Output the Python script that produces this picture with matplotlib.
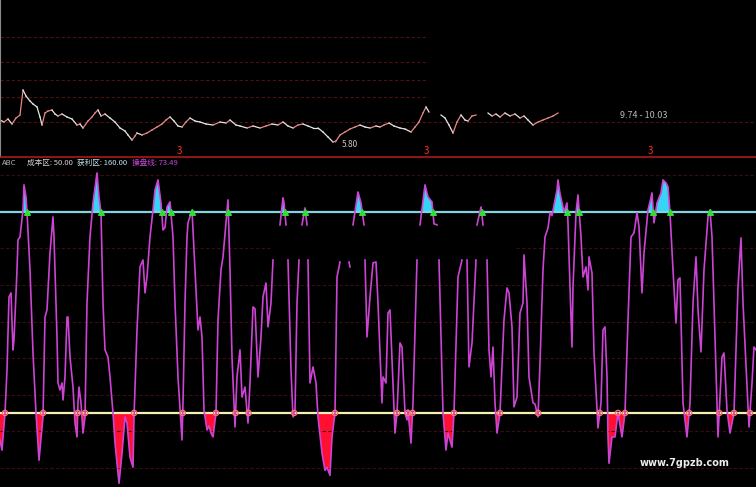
import numpy as np
import matplotlib.pyplot as plt

# 字体：中文用 Noto Sans CJK SC，其余回落到 DejaVu Sans
plt.rcParams['font.family'] = ['Noto Sans CJK SC', 'DejaVu Sans']

# ---------------- 数据 ----------------
# 主图价格（K线收盘走势），NaN 处为被遮挡的部分
price_bar = [0, 2, 4, 6, 8, 10, 11.5, 13, 15, 16.5,
             18.5, 20, 21, 22.5, 24, 26, 27.5, 29, 31, 33.5,
             36, 38.5, 40, 41.5, 44, 46, 47.5, 49, 50.5, 52.5,
             55, 57.5, 60, 62.5, 64, 66, 67.5, 68.5, 71, 73.5,
             76, 78.5, 81, 83, 85, 87, 89, 91, 93, 95,
             97.5, 100, 103, 106.5, 110, 113, 115, 118, 120, 123.5,
             126.5, 130, 133, 136, 139, 141.5, 144, 146.5, 149, 151.5,
             154, 156.5, 159, 161.5, 164, 166.5, 168, 170, 172.5, 175,
             177.5, 180, 182.5, 185, 188, 190, 192, 194.5, 197, 200,
             202.5, 205.5, 207.5, 209.5, 211.5, 213, 214.5, 217, 220.5, 222.5,
             224.5, 226.5, 228.5, 230.5, 232.5, 234, 236, 238, 241, 244,
             246, 248, 250, 252.5, 255, 257.5, 260, 262, 264, 266.5,
             269, 271.5, 274, 276.5, 279]
price_val = [6.90, 6.80, 6.95, 6.70, 7.00, 7.15, 8.40, 8.10, 7.85, 7.70,
             7.55, 7.05, 6.65, 7.25, 7.35, 7.40, 7.20, 7.10, 7.20, 7.05,
             6.95, 6.65, 6.70, 6.50, 6.85, 7.05, 7.25, 7.40, 7.10, 7.20,
             7.00, 6.80, 6.50, 6.35, 6.15, 5.90, 6.10, 6.25, 6.15, 6.25,
             6.40, 6.55, 6.70, 6.90, 7.05, 6.85, 6.60, 6.55, 6.80, 7.00,
             6.85, 6.80, 6.70, 6.65, 6.80, 6.75, 6.90, 6.65, 6.60, 6.50,
             6.60, 6.50, 6.60, 6.70, 6.65, 6.80, 6.60, 6.50, 6.65, 6.70,
             6.60, 6.50, 6.50, 6.30, 6.05, 5.80, 5.85, 6.15, 6.30, 6.45,
             6.55, 6.65, 6.55, 6.50, 6.60, 6.55, 6.65, 6.75, 6.60, 6.50,
             6.45, 6.30, 6.55, 6.80, 7.25, 7.55, 7.30, np.nan, 7.15, 7.00,
             6.65, 6.25, 6.80, 7.15, 6.90, 6.85, 7.10, 7.15, np.nan, 7.25,
             7.10, 7.20, 7.05, 7.25, 7.10, 7.20, 7.00, 7.10, 6.90, 6.65,
             6.80, 6.90, 7.00, 7.10, 7.25]
price_grid_left = [11.05, 9.80, 8.90, 8.05]
price_grid_full = [6.80]
signal_bars = [89.5, 213, 325]
low_bar, low_price = 166.5, 5.80

# 副图：操盘线
osc_bar = [0, 1, 2.5, 3.5, 4.5, 5.5, 6.5, 7, 8.5, 9,
           10, 11.5, 12, 13, 13.5, 15, 16.5, 18, 19.5, 21.5,
           22.5, 23.5, 25, 26.5, 27, 28.5, 29, 30, 31, 31.5,
           32.5, 33.5, 34, 35, 36.5, 37.5, 38.5, 39, 39.5, 40.5,
           41.5, 42.5, 43.5, 45, 46.5, 48.5, 49.5, 50.5, 51.5, 52.5,
           54, 55, 56.5, 57.5, 59.5, 61, 62.5, 63.5, 65, 66.5,
           67, 68.5, 70, 71.5, 72.5, 73.5, 75, 76.5, 77.5, 79,
           80.5, 81.5, 82.5, 83.5, 85, 86.5, 87.5, 89, 91, 91.5,
           92.5, 93.5, 94, 96, 97.5, 99, 100, 101, 102, 103.5,
           104.5, 105.5, 106.5, 108, 109, 110.5, 111.5, 113, 114, 115,
           116, 117.5, 118.5, 120, 121, 122.5, 124, 125, 126.5, 127.5,
           129, 130.5, 131.5, 133, 134, 135.5, 136.5, 138, 140, 141.5,
           142, 143, 143.5, 144, 145.5, 146.5, 147.5, 148.5, 149.5, 150.2,
           151, 152.5, 153.5, 153.8, 154, 155, 156.5, 158, 159, 161,
           162.5, 163.5, 165, 166, 167.5, 168.5, 170, 172, 174.5, 175,
           175.7, 176.5, 179, 180.5, 182, 182.2, 182.5, 183.5, 185, 186.5,
           188, 189, 191, 191.5, 193, 194, 195, 196.5, 197.5, 198.5,
           200, 201, 202.5, 203.5, 204, 205.5, 206.5, 208.5, 209.2, 210,
           212.5, 214, 216, 217, 218.5, 219, 219.5, 221.5, 223, 224,
           226, 227, 229, 231, 232, 233.5, 234.5, 236, 238, 238.2,
           238.5, 240.5, 241.5, 242.5, 243.5, 244.5, 245.5, 246.5, 247.5, 248.5,
           250, 252, 253.5, 254.5, 256, 257, 258.5, 260, 261.5, 262,
           263.5, 264.5, 266.5, 267.5, 269, 270, 271.5, 272.5, 274, 275,
           276, 278.5, 279, 280, 282, 283.5, 284, 285, 286, 286.5,
           288, 289, 290.5, 291.5, 293, 294, 294.5, 296, 297, 298.5,
           299, 300.5, 301.5, 302.5, 303.5, 304, 304.5, 306, 307.5, 309,
           311, 312.5, 314, 315.5, 317, 318.5, 319.5, 321, 322, 324,
           325, 326, 327, 328.5, 330.5, 331.5, 333, 334, 335, 336.5,
           338, 339, 340, 341.5, 343.5, 345, 346.5, 348, 349, 350.5,
           352, 354, 355, 356, 357.5, 359, 361, 362, 363.5, 365,
           367, 369, 370.5, 371.5, 373.5, 374.5, 376, 377, 378]
osc_val = [35.2, 29.7, 50.0, 73.5, 113.5, 115.7, 84.5, 90.0, 128.3, 144.7,
           146.3, 161.1, 174.8, 168.2, 160.0, 128.3, 82.8, 50.0, 24.1, 47.8,
           102.5, 106.4, 137.6, 157.3, 146.3, 91.6, 66.4, 62.6, 66.4, 57.1,
           69.7, 102.5, 102.5, 80.6, 64.2, 44.5, 36.9, 55.5, 64.2, 55.5,
           39.0, 47.8, 110.2, 146.3, 164.9, 181.3, 168.2, 159.5, 110.2, 84.5,
           80.6, 69.7, 50.0, 33.5, 11.5, 28.0, 47.8, 44.5, 25.8, 20.3,
           47.8, 95.4, 129.9, 133.7, 115.7, 124.4, 146.3, 161.1, 172.0, 177.5,
           164.9, 150.1, 151.5, 162.7, 165.5, 146.3, 110.2, 69.7, 35.2, 55.5,
           110.2, 146.3, 154.0, 161.0, 128.3, 95.4, 102.5, 91.6, 51.6, 40.7,
           42.9, 39.0, 36.9, 50.0, 100.9, 128.3, 135.4, 154.0, 166.6, 128.3,
           80.6, 42.3, 69.7, 84.5, 58.7, 64.2, 44.5, 66.4, 108.0, 107.0,
           69.7, 91.6, 113.5, 121.1, 97.1, 110.2, 133.7, np.nan, 152.9, 167.7,
           165.0, 152.9, np.nan, 133.7, 73.5, 47.8, 51.6, 110.2, 133.7, np.nan,
           152.9, 162.2, 152.9, np.nan, 133.7, 66.4, 75.2, 66.4, 47.8, 28.0,
           18.6, 20.3, 15.9, 36.9, 50.0, 124.4, 132.6, np.nan, 132.6, 129.9,
           np.nan, 152.9, 170.9, 164.9, 152.9, np.nan, 133.7, 91.6, 113.5, 132.1,
           132.6, 110.2, 55.5, 69.7, 66.4, 104.7, 106.4, 66.4, 39.0, 50.0,
           88.3, 86.1, 50.0, 46.2, 51.6, 33.5, 55.5, 133.7, np.nan, 152.9,
           174.8, 168.2, 165.5, 153.5, 152.9, np.nan, 133.7, 50.0, 29.7, 39.0,
           31.3, 50.0, 124.4, 133.7, np.nan, 133.7, 75.2, 88.3, 133.7, np.nan,
           152.9, 162.7, 152.9, np.nan, 133.7, 84.5, 69.7, 86.1, 55.5, 39.0,
           50.0, 100.9, 118.4, 115.7, 97.1, 53.3, 58.7, 104.7, 110.2, 136.5,
           110.2, 69.7, 55.5, 54.9, 47.8, 77.4, 128.3, 146.3, 151.2, 159.5,
           158.0, 172.0, 177.5, 170.0, 160.0, 164.9, 154.0, 119.0, 86.1, 119.0,
           159.5, 169.3, 146.3, 124.4, 129.9, 117.3, 135.4, 126.6, 82.8, 51.6,
           41.8, 55.5, 95.4, 97.1, 69.7, 36.9, 22.5, 36.9, 36.9, 50.0,
           36.9, 50.0, 100.9, 146.3, 148.5, 159.5, 151.8, 115.7, 137.6, 161.1,
           165.5, 170.4, 154.0, 164.9, 170.4, 177.5, 175.9, 173.7, 159.5, 128.3,
           99.2, 122.8, 123.9, 55.5, 36.9, 55.5, 110.2, 135.4, 106.4, 83.4,
           128.3, 157.3, 161.1, 146.3, 91.6, 36.9, 80.6, 82.8, 51.6, 39.0,
           50.0, 119.0, 145.8, 110.2, 64.2, 42.3, 66.4, 86.1, 84.5]
cost_level = 50.0
profit_level = 160.0
osc_grid = [20, 40, 60, 80, 100, 120, 180]

osc_bar = np.array(osc_bar, dtype=float)
osc_val = np.array(osc_val, dtype=float)


def crossings(x, v, level, direction):
    pts = []
    for i in range(len(v) - 1):
        a, b = v[i], v[i + 1]
        if np.isnan(a) or np.isnan(b):
            continue
        if (direction == 'down' and a >= level and b < level) or \
           (direction == 'up' and a < level and b >= level):
            t = (a - level) / (a - b)
            pts.append(x[i] + t * (x[i + 1] - x[i]))
    return pts


# ---------------- 画布 ----------------
fig = plt.figure(figsize=(7.56, 4.87), dpi=100, facecolor='black')
ax_top = fig.add_axes([0, 0.6776, 1, 0.3224])
ax = fig.add_axes([0, 0, 1, 0.6756])

for a in (ax_top, ax):
    a.set_facecolor('black')
    a.set_xlim(0, 378)
    a.set_xticks([])
    a.set_yticks([])
    for s in a.spines.values():
        s.set_visible(False)

# ---------------- 主图 ----------------
ax_top.set_ylim(5.05, 12.9)
for lv in price_grid_left:
    ax_top.hlines(lv, 0, 214, colors='#4a1212', linestyles=(0, (3, 2)), lw=0.8)
for lv in price_grid_full:
    ax_top.axhline(lv, color='#4a1212', ls=(0, (3, 2)), lw=0.8)

for i in range(len(price_bar) - 1):
    p0, p1 = price_val[i], price_val[i + 1]
    if np.isnan(p0) or np.isnan(p1):
        continue
    c = '#e88888' if p1 > p0 else '#e6e6e6'
    ax_top.plot(price_bar[i:i + 2], [p0, p1], color=c, lw=0.9)

ax_top.annotate('5.80', xy=(low_bar, low_price), xytext=(6, -2),
                textcoords='offset points', color='#c8c8c8', fontsize=6,
                va='center', ha='left',
                arrowprops=dict(arrowstyle='-', color='#c8c8c8', lw=0.6))
ax_top.text(310, 7.15, '9.74 - 10.03', color='#b8b8b8', fontsize=6.5, va='center')
for b in signal_bars:
    ax_top.text(b, 5.35, '3', color='#ff3030', fontsize=7, ha='center', va='center')

ax_top.spines['bottom'].set_visible(True)
ax_top.spines['bottom'].set_color('#b01818')
ax_top.spines['bottom'].set_linewidth(1.2)
ax_top.spines['left'].set_visible(True)
ax_top.spines['left'].set_color('#8a8a8a')

# ---------------- 副图 ----------------
ax.set_ylim(9.5, 189.5)
for lv in osc_grid:
    ax.axhline(lv, color='#3e0c0c', ls=(0, (3, 2)), lw=0.8)
ax.hlines(140, 0, 136, colors='#3e0c0c', linestyles=(0, (3, 2)), lw=0.8)
ax.hlines(140, 258, 378, colors='#3e0c0c', linestyles=(0, (3, 2)), lw=0.8)

ax.fill_between(osc_bar, osc_val, cost_level, where=osc_val <= cost_level,
                interpolate=True, color='#ff1030', lw=0)
ax.fill_between(osc_bar, osc_val, profit_level, where=osc_val >= profit_level,
                interpolate=True, color='#38d4f4', lw=0)

ax.axhline(profit_level, color='#80d4e2', lw=1.6)
ax.axhline(cost_level, color='#f4f0b4', lw=1.6)

ax.plot(osc_bar, osc_val, color='#cc44d4', lw=1.2)

down_x = crossings(osc_bar, osc_val, profit_level, 'down')
up_x = crossings(osc_bar, osc_val, cost_level, 'up')
ax.scatter(down_x, [profit_level] * len(down_x), marker='^', s=16,
           color='#30e030', zorder=5)
ax.scatter(up_x, [cost_level] * len(up_x), marker='o', s=14,
           facecolors='none', edgecolors='#ff7070', lw=1.0, zorder=5)

# 指标标题
ax.text(0.003, 0.985, 'ABC', transform=ax.transAxes, color='#b4b4b4',
        fontsize=5.5, va='center')
ax.text(0.036, 0.985, '成本区: 50.00', transform=ax.transAxes, color='#d4d4d4',
        fontsize=5.5, va='center')
ax.text(0.102, 0.985, '获利区: 160.00', transform=ax.transAxes, color='#c4e4f0',
        fontsize=5.5, va='center')
ax.text(0.175, 0.985, '操盘线: 73.49', transform=ax.transAxes, color='#c848d8',
        fontsize=5.5, va='center')

ax.text(0.846, 0.073, 'www.7gpzb.com', transform=ax.transAxes, color='#ececec',
        fontsize=7, fontweight='bold', va='center', family=['DejaVu Sans'])

fig.savefig('out.png', dpi=100, facecolor='black')
plt.close(fig)
